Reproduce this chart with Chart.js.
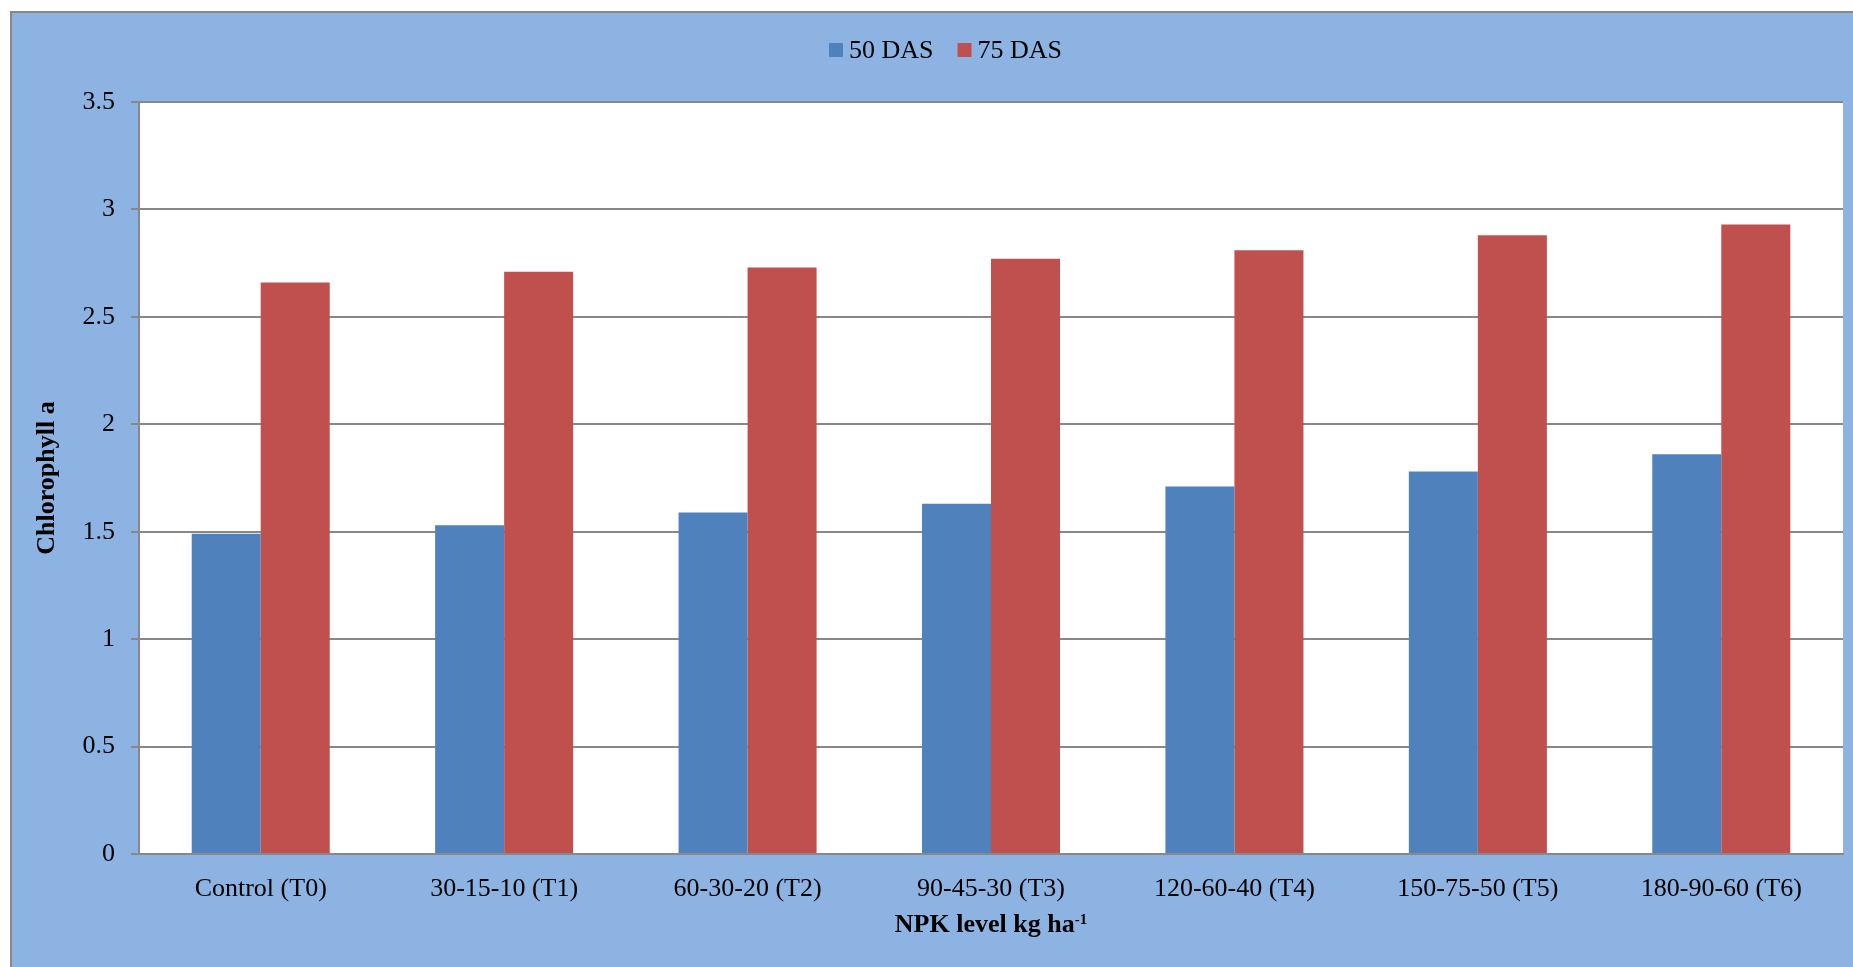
<!DOCTYPE html>
<html>
<head>
<meta charset="utf-8">
<script src="https://cdn.jsdelivr.net/npm/chart.js@4.4.0/dist/chart.umd.min.js"></script>
<style>
  html, body { margin: 0; padding: 0; background: #ffffff; overflow: hidden; width: 1853px; height: 967px; }
  #frame { position: absolute; left: 10px; top: 11px; width: 1867px; height: 980px;
           border: 2px solid #878787; background: #8DB3E2; }
  #frame canvas { display: block; }
</style>
</head>
<body>
<div id="frame"><canvas id="chart" width="1867" height="980"></canvas></div>
<script>
// NPK treatments (kg ha-1)
const categories = [
  'Control (T0)', '30-15-10 (T1)', '60-30-20 (T2)', '90-45-30 (T3)',
  '120-60-40 (T4)', '150-75-50 (T5)', '180-90-60 (T6)'
];
// Chlorophyll a at two sampling dates
const das50 = [1.49, 1.53, 1.59, 1.63, 1.71, 1.78, 1.86];
const das75 = [2.66, 2.71, 2.73, 2.77, 2.81, 2.88, 2.93];
const seriesNames = ['50 DAS', '75 DAS'];
const yTicks = [0, 0.5, 1, 1.5, 2, 2.5, 3, 3.5];

const FONT = '"Liberation Serif", "Times New Roman", serif';
const GRID = '#888888';

// White plotting area inside the blue frame
const plotBackground = {
  id: 'plotBackground',
  beforeDraw(chart) {
    const { ctx, chartArea: a } = chart;
    ctx.save();
    ctx.fillStyle = '#ffffff';
    ctx.fillRect(a.left, a.top, a.right - a.left, a.bottom - a.top);
    ctx.restore();
  }
};

// Compact legend row: square swatch, short gap, label
const legendRow = {
  id: 'legendRow',
  afterDraw(chart) {
    const ctx = chart.ctx;
    const box = 14, gap = 6, spacing = 24, cy = 37;
    ctx.save();
    ctx.font = '26px ' + FONT;
    ctx.textBaseline = 'middle';
    ctx.textAlign = 'left';
    const items = chart.data.datasets.map(d => ({ text: d.label, color: d.backgroundColor, w: ctx.measureText(d.label).width }));
    let total = 0;
    items.forEach((it, i) => { total += box + gap + it.w + (i ? spacing : 0); });
    let x = chart.width / 2 - total / 2;
    items.forEach((it, i) => {
      if (i) x += spacing;
      ctx.fillStyle = it.color;
      ctx.fillRect(x, cy - box / 2, box, box);
      x += box + gap;
      ctx.fillStyle = '#000000';
      ctx.fillText(it.text, x, cy + 1);
      x += it.w;
    });
    ctx.restore();
  }
};

// X axis title with a superscript exponent
const xTitle = {
  id: 'xTitle',
  afterDraw(chart) {
    const ctx = chart.ctx, a = chart.chartArea;
    const main = 'NPK level kg ha', sup = '-1';
    ctx.save();
    ctx.textBaseline = 'alphabetic';
    ctx.textAlign = 'left';
    ctx.font = 'bold 26px ' + FONT;
    const wm = ctx.measureText(main).width;
    ctx.font = 'bold 15px ' + FONT;
    const ws = ctx.measureText(sup).width;
    const x0 = (a.left + a.right) / 2 - (wm + ws) / 2;
    const base = 919;
    ctx.fillStyle = '#000000';
    ctx.font = 'bold 26px ' + FONT;
    ctx.fillText(main, x0, base);
    ctx.font = 'bold 15px ' + FONT;
    ctx.fillText(sup, x0 + wm, base - 8);
    ctx.restore();
  }
};

new Chart(document.getElementById('chart'), {
  type: 'bar',
  data: {
    labels: categories,
    datasets: [
      { label: seriesNames[0], data: das50, backgroundColor: '#4F81BD' },
      { label: seriesNames[1], data: das75, backgroundColor: '#C0504D' }
    ]
  },
  options: {
    responsive: false,
    animation: false,
    devicePixelRatio: 1,
    categoryPercentage: 0.567,
    barPercentage: 1.0,
    layout: { padding: { top: 89, right: 36, left: 0, bottom: 0 } },
    plugins: {
      legend: { display: false },
      tooltip: { enabled: false }
    },
    scales: {
      x: {
        grid: { display: false, drawTicks: false },
        border: { display: true, color: GRID, width: 2 },
        ticks: { color: '#000000', font: { family: FONT, size: 26 }, padding: 20, maxRotation: 0, autoSkip: false },
        afterFit(scale) { scale.height = 139; }
      },
      y: {
        min: 0,
        max: 3.5,
        afterBuildTicks(scale) { scale.ticks = yTicks.map(v => ({ value: v })); },
        grid: { color: GRID, lineWidth: 2, drawTicks: true, tickLength: 8 },
        border: { display: true, color: GRID, width: 2 },
        ticks: { color: '#000000', font: { family: FONT, size: 26 }, padding: 16,
                 callback: v => String(v) },
        title: { display: true, text: 'Chlorophyll a', color: '#000000',
                 font: { family: FONT, size: 26, weight: 'bold' }, padding: { top: 20, bottom: 0 } },
        afterFit(scale) { scale.width = 127; }
      }
    }
  },
  plugins: [plotBackground, legendRow, xTitle]
});
</script>
</body>
</html>
